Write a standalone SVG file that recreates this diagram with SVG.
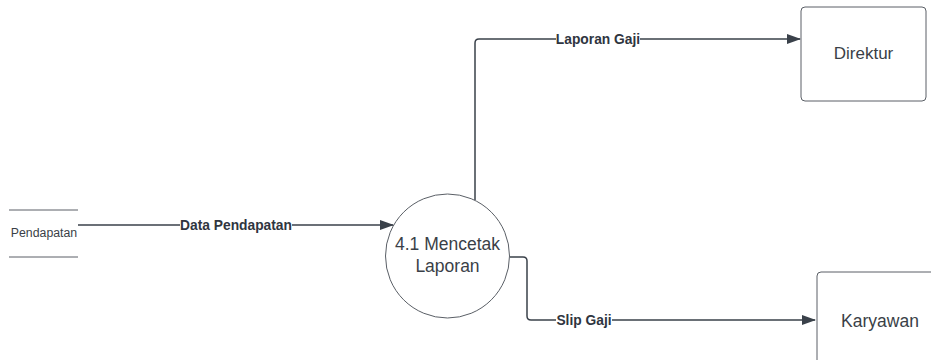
<svg xmlns="http://www.w3.org/2000/svg" width="931" height="360" viewBox="0 0 931 360">
<style>
.shape{fill:#fff;stroke:#5a5f66;stroke-width:1}
.conn{fill:none;stroke:#3a414a;stroke-width:1.5}
.lbl{font-family:"Liberation Sans",Arial,sans-serif;font-weight:bold;font-size:13.8px;fill:#2f3540;text-anchor:middle}
.txt{font-family:"Liberation Sans",Arial,sans-serif;fill:#3a3f47;text-anchor:middle}
.bg{fill:#fff;stroke:none}
</style>
<defs>
<marker id="ah" markerWidth="14" markerHeight="10" refX="13" refY="5" orient="auto" markerUnits="userSpaceOnUse">
<path d="M0,0 L14,5 L0,10 Z" fill="#3a414a"/>
</marker>
</defs>
<rect width="931" height="360" fill="#fff"/>
<g id="pendapatan">
<line x1="9" y1="210" x2="78" y2="210" stroke="#5a5f66" stroke-width="1"/>
<line x1="9" y1="257" x2="78" y2="257" stroke="#5a5f66" stroke-width="1"/>
<text class="txt" x="44" y="237" font-size="12.3">Pendapatan</text>
</g>
<g id="proses">
<circle class="shape" cx="447.5" cy="256" r="62"/>
<text class="txt" x="447.5" y="250" font-size="17.5">4.1 Mencetak</text>
<text class="txt" x="447.5" y="272" font-size="17.5">Laporan</text>
</g>
<g id="direktur">
<rect class="shape" x="801" y="7" width="125" height="94" rx="4"/>
<text class="txt" x="863.5" y="59" font-size="17">Direktur</text>
</g>
<g id="karyawan">
<rect class="shape" x="817" y="272" width="130" height="100" rx="4"/>
<text class="txt" x="880" y="327" font-size="17.5">Karyawan</text>
</g>
<g id="connectors">
<line class="conn" x1="78" y1="225" x2="393" y2="225" marker-end="url(#ah)"/>
<path class="conn" d="M475,200 V43 Q475,39 479,39 H800" marker-end="url(#ah)"/>
<path class="conn" d="M510,257 H523 Q527,257 527,261 V316 Q527,320 531,320 H815" marker-end="url(#ah)"/>
<rect class="bg" x="180" y="216" width="112" height="17"/>
<text class="lbl" x="236" y="230">Data Pendapatan</text>
<rect class="bg" x="556" y="30" width="84" height="17"/>
<text class="lbl" x="598" y="44">Laporan Gaji</text>
<rect class="bg" x="556" y="311" width="56" height="17"/>
<text class="lbl" x="584" y="325">Slip Gaji</text>
</g>
</svg>
